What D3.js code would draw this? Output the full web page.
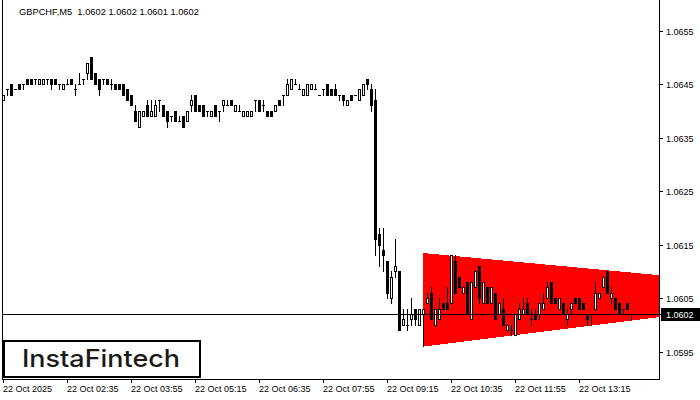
<!DOCTYPE html>
<html>
<head>
<meta charset="utf-8">
<script src="https://cdn.jsdelivr.net/npm/d3@7"></script>
<style>
    body { margin: 0; background: #fff; }
    svg { display: block; font-family: "Liberation Sans", Arial, sans-serif; }
</style>
</head>
<body>
<div id="chart"></div>
<script>
const title = "GBPCHF,M5  1.0602 1.0602 1.0601 1.0602";

// M5 bars, 01:15 onwards
const opens = [1.0642,1.0644,1.0645,1.0644,1.0645,1.0645,1.0646,1.0646,1.0646,1.0645,
    1.0645,1.0646,1.0646,1.0646,1.0645,1.0644,1.0645,1.0646,1.0644,1.0645,
    1.0646,1.0647,1.0650,1.0647,1.0646,1.0646,1.0646,1.0645,1.0645,1.0645,
    1.0645,1.0644,1.0643,1.0640,1.0637,1.0639,1.0641,1.0639,1.0639,1.0642,
    1.0641,1.0640,1.0639,1.0640,1.0638,1.0639,1.0638,1.0641,1.0643,1.0641,
    1.0641,1.0640,1.0639,1.0641,1.0640,1.0641,1.0641,1.0642,1.0640,1.0640,
    1.0639,1.0639,1.0639,1.0642,1.0642,1.0641,1.0640,1.0640,1.0640,1.0642,
    1.0643,1.0643,1.0644,1.0645,1.0644,1.0643,1.0643,1.0644,1.0644,1.0643,
    1.0644,1.0645,1.0644,1.0644,1.0643,1.0643,1.0641,1.0643,1.0643,1.0642,
    1.0643,1.0646,1.0644,1.0642,1.0617,1.0614,1.0612,1.0605,1.0610,1.0610,
    1.0600,1.0600,1.0601,1.0603,1.0600,1.0602,1.0604,1.0606,1.0600,1.0601,
    1.0604,1.0604,1.0604,1.0612,1.0609,1.0606,1.0608,1.0601,1.0607,1.0611,
    1.0604,1.0607,1.0604,1.0606,1.0602,1.0603,1.0599,1.0599,1.0598,1.0601,
    1.0602,1.0604,1.0601,1.0602,1.0602,1.0603,1.0605,1.0608,1.0605,1.0603,
    1.0604,1.0601,1.0603,1.0605,1.0605,1.0604,1.0602,1.0602,1.0603,1.0605,
    1.0607,1.0610,1.0605,1.0605,1.0604,1.0603,1.0604,1.0602];
const highs = [1.0643,1.0644,1.0645,1.0644,1.0645,1.0645,1.0646,1.0646,1.0646,1.0646,
    1.0646,1.0646,1.0646,1.0646,1.0645,1.0645,1.0646,1.0646,1.0645,1.0647,
    1.0646,1.0649,1.0650,1.0647,1.0646,1.0646,1.0646,1.0646,1.0645,1.0645,
    1.0645,1.0644,1.0643,1.0641,1.0640,1.0640,1.0642,1.0642,1.0642,1.0642,
    1.0641,1.0640,1.0639,1.0640,1.0639,1.0639,1.0640,1.0643,1.0643,1.0641,
    1.0641,1.0640,1.0640,1.0641,1.0640,1.0642,1.0642,1.0642,1.0641,1.0641,
    1.0640,1.0640,1.0640,1.0642,1.0642,1.0642,1.0640,1.0640,1.0641,1.0642,
    1.0643,1.0646,1.0646,1.0646,1.0645,1.0644,1.0645,1.0645,1.0645,1.0643,
    1.0644,1.0645,1.0644,1.0645,1.0643,1.0643,1.0642,1.0643,1.0643,1.0644,
    1.0645,1.0646,1.0645,1.0644,1.0618,1.0618,1.0612,1.0610,1.0616,1.0610,
    1.0603,1.0603,1.0605,1.0603,1.0603,1.0603,1.0606,1.0607,1.0603,1.0605,
    1.0604,1.0607,1.0613,1.0613,1.0609,1.0607,1.0608,1.0608,1.0610,1.0611,
    1.0608,1.0607,1.0607,1.0606,1.0604,1.0605,1.0600,1.0600,1.0602,1.0604,
    1.0605,1.0605,1.0603,1.0603,1.0604,1.0606,1.0608,1.0608,1.0605,1.0605,
    1.0604,1.0603,1.0604,1.0605,1.0605,1.0604,1.0602,1.0602,1.0608,1.0606,
    1.0609,1.0610,1.0607,1.0605,1.0604,1.0603,1.0604,1.0602];
const lows = [1.0642,1.0643,1.0643,1.0644,1.0644,1.0644,1.0645,1.0645,1.0645,1.0645,
    1.0645,1.0645,1.0644,1.0645,1.0644,1.0644,1.0645,1.0645,1.0643,1.0645,
    1.0645,1.0646,1.0646,1.0645,1.0643,1.0645,1.0645,1.0644,1.0644,1.0644,
    1.0643,1.0642,1.0641,1.0638,1.0637,1.0639,1.0639,1.0639,1.0639,1.0640,
    1.0639,1.0637,1.0638,1.0638,1.0638,1.0637,1.0638,1.0640,1.0640,1.0640,
    1.0639,1.0639,1.0639,1.0639,1.0638,1.0640,1.0641,1.0641,1.0640,1.0640,
    1.0639,1.0639,1.0639,1.0640,1.0640,1.0640,1.0639,1.0639,1.0640,1.0641,
    1.0641,1.0643,1.0644,1.0645,1.0644,1.0643,1.0643,1.0644,1.0644,1.0643,
    1.0643,1.0643,1.0643,1.0643,1.0642,1.0641,1.0641,1.0642,1.0643,1.0642,
    1.0643,1.0644,1.0640,1.0613,1.0611,1.0610,1.0605,1.0604,1.0609,1.0599,
    1.0600,1.0599,1.0600,1.0600,1.0600,1.0596,1.0604,1.0601,1.0600,1.0601,
    1.0603,1.0603,1.0604,1.0606,1.0607,1.0606,1.0602,1.0601,1.0607,1.0604,
    1.0604,1.0604,1.0604,1.0601,1.0602,1.0600,1.0599,1.0598,1.0598,1.0601,
    1.0602,1.0602,1.0600,1.0601,1.0601,1.0603,1.0605,1.0604,1.0604,1.0603,
    1.0602,1.0600,1.0602,1.0604,1.0603,1.0603,1.0600,1.0600,1.0603,1.0605,
    1.0607,1.0606,1.0604,1.0603,1.0602,1.0602,1.0603,1.0601];
const closes = [1.0643,1.0644,1.0643,1.0644,1.0644,1.0645,1.0645,1.0645,1.0646,1.0646,
    1.0646,1.0646,1.0645,1.0645,1.0645,1.0645,1.0645,1.0645,1.0644,1.0645,
    1.0646,1.0649,1.0646,1.0645,1.0644,1.0646,1.0645,1.0645,1.0644,1.0644,
    1.0643,1.0642,1.0641,1.0638,1.0640,1.0640,1.0639,1.0640,1.0641,1.0642,
    1.0639,1.0638,1.0639,1.0638,1.0638,1.0637,1.0640,1.0642,1.0640,1.0640,
    1.0639,1.0640,1.0640,1.0639,1.0640,1.0642,1.0641,1.0641,1.0641,1.0640,
    1.0640,1.0640,1.0640,1.0642,1.0640,1.0641,1.0639,1.0639,1.0641,1.0641,
    1.0643,1.0645,1.0646,1.0645,1.0644,1.0644,1.0645,1.0645,1.0644,1.0643,
    1.0644,1.0643,1.0643,1.0643,1.0643,1.0642,1.0642,1.0642,1.0643,1.0644,
    1.0645,1.0645,1.0641,1.0616,1.0615,1.0613,1.0606,1.0609,1.0611,1.0599,
    1.0601,1.0600,1.0602,1.0601,1.0603,1.0603,1.0605,1.0601,1.0603,1.0603,
    1.0603,1.0603,1.0613,1.0606,1.0607,1.0607,1.0602,1.0608,1.0610,1.0605,
    1.0608,1.0604,1.0607,1.0601,1.0604,1.0600,1.0600,1.0599,1.0602,1.0603,
    1.0603,1.0602,1.0601,1.0601,1.0604,1.0604,1.0607,1.0604,1.0604,1.0605,
    1.0602,1.0602,1.0604,1.0604,1.0603,1.0603,1.0601,1.0602,1.0606,1.0606,
    1.0609,1.0606,1.0606,1.0603,1.0602,1.0603,1.0603,1.0602];

const timeLabels = ["22 Oct 2025", "22 Oct 02:35", "22 Oct 03:55", "22 Oct 05:15", "22 Oct 06:35",
    "22 Oct 07:55", "22 Oct 09:15", "22 Oct 10:35", "22 Oct 11:55", "22 Oct 13:15"];
const timeLabelBars = [0, 16, 32, 48, 64, 80, 96, 112, 128, 144];
const priceTicks = [1.0595, 1.0605, 1.0615, 1.0625, 1.0635, 1.0645, 1.0655];
const lastPrice = 1.0602;

// triangle pattern: two corners on bar 105 and an apex beyond the last bar
const triangleBars = [105, 105, 212];
const trianglePrices = [1.06135, 1.0596, 1.0606];

const width = 700, height = 400;
const left = 2, right = 659, bottom = 379;

const svg = d3.select("#chart").append("svg")
    .attr("width", width)
    .attr("height", height);

const x = d3.scaleLinear().domain([0, 1]).range([3, 7]);
const y = d3.scaleLinear().domain([1.0595, 1.0655]).range([352, 31]);
const py = p => Math.floor(y(p) + 1e-6);

svg.append("clipPath").attr("id", "plot")
    .append("rect").attr("x", left).attr("y", 0).attr("width", right - left).attr("height", bottom);

const plot = svg.append("g").attr("clip-path", "url(#plot)");

// pattern shape
plot.append("polygon")
    .attr("points", triangleBars.map((b, i) => [x(b), y(trianglePrices[i])].join(",")).join(" "))
    .attr("fill", "#ff0000")
    .attr("shape-rendering", "crispEdges");

const bars = d3.range(opens.length).map(i => ({
    i, o: opens[i], h: highs[i], l: lows[i], c: closes[i]
}));

const candle = plot.append("g").selectAll("g")
    .data(bars)
    .enter().append("g")
    .attr("shape-rendering", "crispEdges");

candle.append("line")
    .attr("x1", d => x(d.i) + 0.5).attr("x2", d => x(d.i) + 0.5)
    .attr("y1", d => py(d.h)).attr("y2", d => py(d.l) + 1)
    .attr("stroke", "#000");

candle.each(function(d) {
    const g = d3.select(this);
    const cx = x(d.i);
    const top = py(Math.max(d.o, d.c));
    const bot = py(Math.min(d.o, d.c));
    if (d.c > d.o) {
        g.append("rect")
            .attr("x", cx - 0.5).attr("y", top + 0.5)
            .attr("width", 2).attr("height", bot - top)
            .attr("fill", "#fff").attr("stroke", "#000");
    } else if (d.c < d.o) {
        g.append("rect")
            .attr("x", cx - 1).attr("y", top)
            .attr("width", 3).attr("height", bot - top + 1)
            .attr("fill", "#000");
    } else {
        g.append("rect")
            .attr("x", cx - 1).attr("y", top)
            .attr("width", 3).attr("height", 1)
            .attr("fill", "#000");
    }
});

// bid line
svg.append("line")
    .attr("x1", left).attr("x2", 662)
    .attr("y1", py(lastPrice) + 0.5).attr("y2", py(lastPrice) + 0.5)
    .attr("stroke", "#000")
    .attr("shape-rendering", "crispEdges");

// frame
svg.append("path")
    .attr("d", `M${left + 0.5},0V${bottom + 0.5}H${right + 0.5}V0`)
    .attr("fill", "none")
    .attr("stroke", "#000")
    .attr("shape-rendering", "crispEdges");

// price axis
const yAxis = svg.append("g");
priceTicks.forEach(p => {
    const ty = py(p) + 0.5;
    yAxis.append("line")
        .attr("x1", right).attr("x2", right + 4)
        .attr("y1", ty).attr("y2", ty)
        .attr("stroke", "#000").attr("shape-rendering", "crispEdges");
    yAxis.append("text")
        .attr("x", 666).attr("y", ty + 3.5)
        .attr("font-size", "9px")
        .attr("fill", "#000")
        .text(p.toFixed(4));
});

svg.append("rect")
    .attr("x", 661).attr("y", py(lastPrice) - 6)
    .attr("width", 39).attr("height", 13)
    .attr("fill", "#000");
svg.append("text")
    .attr("x", 666).attr("y", py(lastPrice) + 4)
    .attr("font-size", "9px")
    .attr("fill", "#fff")
    .text(lastPrice.toFixed(4));

// time axis
const xAxis = svg.append("g");
timeLabelBars.forEach((b, i) => {
    const tx = x(b) + 0.5;
    xAxis.append("line")
        .attr("x1", tx).attr("x2", tx)
        .attr("y1", bottom).attr("y2", bottom + 4)
        .attr("stroke", "#000").attr("shape-rendering", "crispEdges");
    xAxis.append("text")
        .attr("x", x(b)).attr("y", 392)
        .attr("font-size", "9px")
        .attr("fill", "#000")
        .text(timeLabels[i]);
});

svg.append("text")
    .attr("x", 19).attr("y", 15)
    .attr("font-size", "9.3px")
    .attr("fill", "#000")
    .attr("xml:space", "preserve")
    .style("white-space", "pre")
    .text(title);

// logo
svg.append("rect")
    .attr("x", 4).attr("y", 341)
    .attr("width", 196).attr("height", 36)
    .attr("fill", "#fff")
    .attr("stroke", "#000")
    .attr("stroke-width", 2);
svg.append("text")
    .attr("x", 22).attr("y", 367)
    .attr("font-family", "Inter, 'Open Sans', sans-serif")
    .attr("font-size", "24px")
    .attr("font-weight", 500)
    .attr("fill", "#1a1a1a")
    .attr("textLength", 158)
    .attr("lengthAdjust", "spacingAndGlyphs")
    .text("InstaFintech");
</script>
</body>
</html>
